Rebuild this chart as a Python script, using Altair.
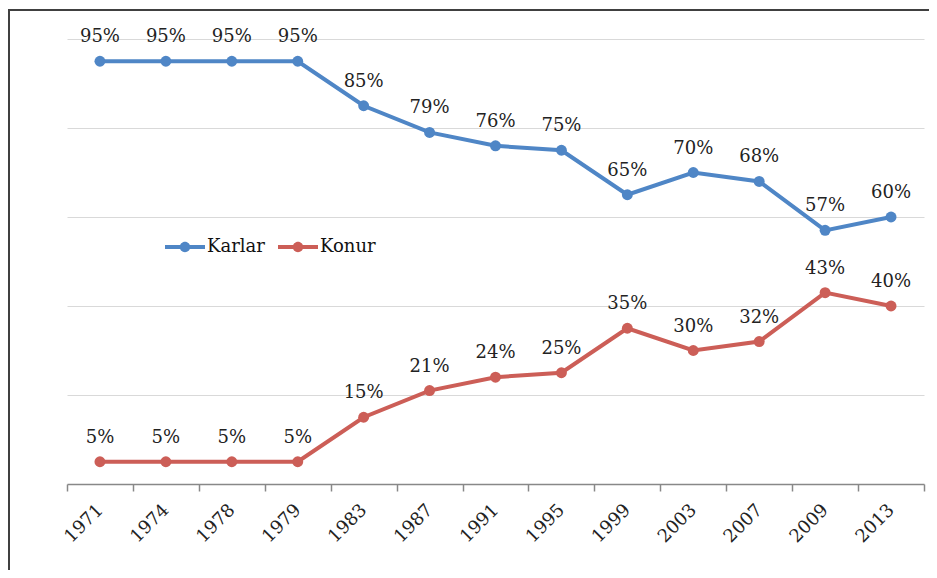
import altair as alt
import pandas as pd

years = ["1971", "1974", "1978", "1979", "1983", "1987", "1991", "1995",
         "1999", "2003", "2007", "2009", "2013"]
karlar = [95, 95, 95, 95, 85, 79, 76, 75, 65, 70, 68, 57, 60]
konur = [5, 5, 5, 5, 15, 21, 24, 25, 35, 30, 32, 43, 40]
series_names = ["Karlar", "Konur"]
series_colors = ["#4F86C6", "#CC5E57"]

rows = []
for name, vals in zip(series_names, [karlar, konur]):
    for y, v in zip(years, vals):
        rows.append({"year": y, "value": v, "series": name, "label": f"{v}%"})
df = pd.DataFrame(rows)

FONT = "DejaVu Serif"

x_enc = alt.X("year:N", sort=years, bandPosition=0.5,
              scale=alt.Scale(type="band", paddingInner=0, paddingOuter=0),
              axis=alt.Axis(title=None, labelAngle=-45, labelAlign="right",
                            labelBaseline="middle", labelPadding=16,
                            labelFont=FONT, labelFontSize=18, labelColor="#222222",
                            tickBand="extent", tickSize=7, tickColor="#888888",
                            domainColor="#888888", domainWidth=1.5, tickWidth=1.5,
                            grid=False))
y_enc = alt.Y("value:Q", scale=alt.Scale(domain=[0, 100], nice=False),
              axis=alt.Axis(title=None, labels=False, ticks=False, domain=False,
                            grid=True, values=[20, 40, 60, 80, 100],
                            gridColor="#d9d9d9", gridWidth=1))

base = alt.Chart(df)

lines = base.mark_line(strokeWidth=4).encode(
    x=x_enc, y=y_enc,
    color=alt.Color("series:N", sort=series_names,
                    scale=alt.Scale(domain=series_names, range=series_colors),
                    legend=None))

legend_path = ("M-1,-0.1L1,-0.1L1,0.1L-1,0.1Z "
               "M0.26,0A0.26,0.26,0,1,1,-0.26,0A0.26,0.26,0,1,1,0.26,0Z")

points = base.mark_circle(size=120, opacity=1).encode(
    x=x_enc, y=y_enc,
    color=alt.Color("series:N", sort=series_names,
                    scale=alt.Scale(domain=series_names, range=series_colors),
                    legend=alt.Legend(title=None, orient="none", legendX=98, legendY=188,
                                      direction="horizontal", symbolType=legend_path,
                                      symbolSize=1600, symbolStrokeWidth=0,
                                      labelFont=FONT, labelFontSize=18,
                                      labelColor="#111111", labelOffset=2,
                                      columnPadding=13, padding=0)))

texts = base.mark_text(dy=-24, font=FONT, fontSize=18, color="#222222").encode(
    x=x_enc, y=y_enc, text="label:N")

border = alt.Chart(alt.Data(values=[{"a": 1}])).mark_rect(
    fillOpacity=0, stroke="#404040", strokeWidth=2).encode(
    x=alt.value(-58), x2=alt.value(1200), y=alt.value(-29), y2=alt.value(1200))

chart = alt.layer(border, lines, points, texts).resolve_scale(
    color="independent"
).properties(
    width=857, height=445,
    padding={"left": 59, "top": 31, "right": 5, "bottom": 86},
    autosize=alt.AutoSizeParams(type="none"),
).configure_view(stroke=None)

chart.save("out.html", embed_options={"renderer": "svg", "actions": False})
